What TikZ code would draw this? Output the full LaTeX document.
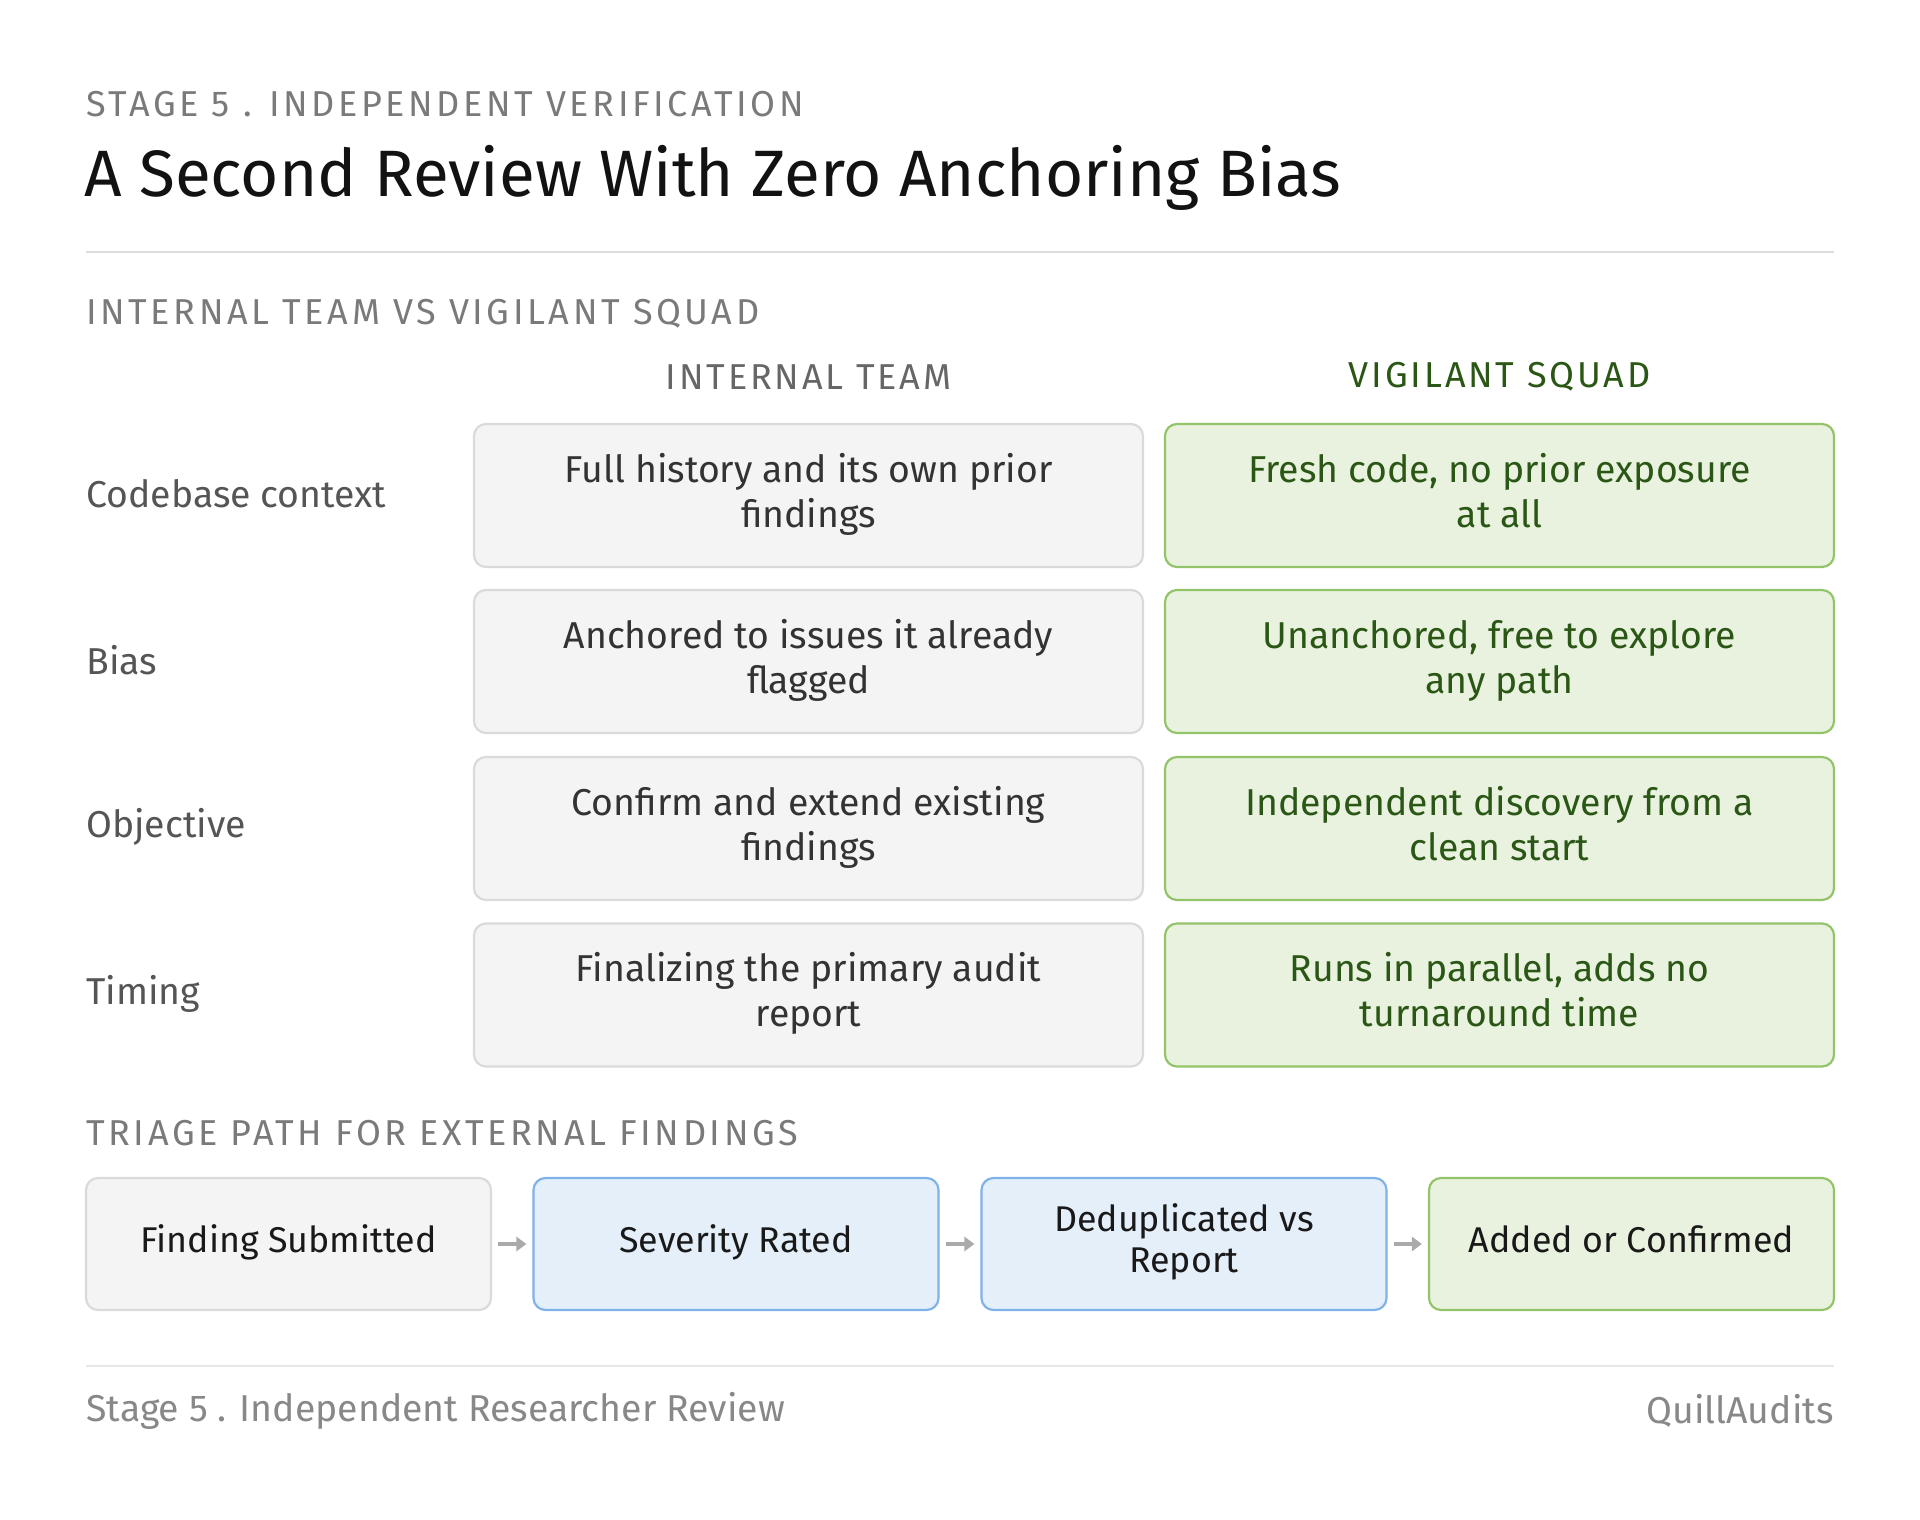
\documentclass[tikz,border=0pt]{standalone}
\usepackage{fontspec}
\setmainfont{Fira Sans}
\usetikzlibrary{arrows.meta}
\definecolor{greyfill}{HTML}{F4F4F4}
\definecolor{greyline}{HTML}{DADADA}
\definecolor{greenfill}{HTML}{E9F2DE}
\definecolor{greenline}{HTML}{94C46A}
\definecolor{greentext}{HTML}{2B5716}
\definecolor{bluefill}{HTML}{E5EFFA}
\definecolor{blueline}{HTML}{80B2E8}
\definecolor{kicker}{HTML}{7A7A7A}
\definecolor{rowlab}{HTML}{555555}
\definecolor{boxtext}{HTML}{333333}
\definecolor{footgrey}{HTML}{888888}
\definecolor{rulegrey}{HTML}{DDDDDD}
\definecolor{arrowgrey}{HTML}{AAAAAA}
\begin{document}
\begin{tikzpicture}[x=0.5pt,y=-0.5pt,
  capslab/.style={anchor=west,inner sep=0pt,text=kicker,font=\fontsize{18}{21}\selectfont\addfontfeatures{LetterSpace=10}},
  colhead/.style={inner sep=0pt,font=\fontsize{18}{21}\selectfont\addfontfeatures{LetterSpace=8}},
  rowlabel/.style={anchor=west,inner sep=0pt,text=rowlab,font=\fontsize{18.7}{22}\selectfont},
  cellbase/.style={rounded corners=6pt,line width=1.1pt,minimum width=334.5pt,minimum height=71.5pt,align=center,font=\fontsize{18.7}{22.5}\selectfont},
  greycell/.style={cellbase,fill=greyfill,draw=greyline,text=boxtext},
  greencell/.style={cellbase,fill=greenfill,draw=greenline,text=greentext},
  flowbase/.style={rounded corners=6pt,line width=1.1pt,minimum width=202.5pt,minimum height=66pt,align=center,text=black!90,font=\fontsize{17.9}{20.5}\selectfont},
  flowgrey/.style={flowbase,fill=greyfill,draw=greyline},
  flowblue/.style={flowbase,fill=bluefill,draw=blueline},
  flowgreen/.style={flowbase,fill=greenfill,draw=greenline},
  flowarrow/.style={draw=arrowgrey,line width=1.6pt,-{Triangle[length=5pt,width=7pt]},shorten <=3pt,shorten >=3pt}
]
\useasboundingbox (0,0) rectangle (1920,1519);
\fill[white] (0,0) rectangle (1920,1519);

% header
\node[capslab] (kick) at (86,104) {STAGE 5 . INDEPENDENT VERIFICATION};
\node[anchor=west,inner sep=0pt,text=black!93,font=\fontsize{32.8}{38}\selectfont] (title) at (84,178) {A Second Review With Zero Anchoring Bias};
\coordinate (r1a) at (86,252);
\coordinate (r1b) at (1834,252);
\draw[rulegrey,line width=1pt] (r1a) -- (r1b);

\node[capslab] (sec1) at (86,314) {INTERNAL TEAM VS VIGILANT SQUAD};

% column headers
\node[colhead,text=rowlab!90] (hint) at (808.5,377) {INTERNAL TEAM};
\node[colhead,text=greentext] (hvig) at (1499.5,377) {VIGILANT SQUAD};

% rows
\node[rowlabel] (l1) at (86,494) {Codebase context};
\node[greycell] (a1) at (808.5,495.5) {\strut Full history and its own prior\\findings\strut};
\node[greencell] (b1) at (1499.5,495.5) {\strut Fresh code, no prior exposure\\at all\strut};

\node[rowlabel] (l2) at (86,660) {Bias};
\node[greycell] (a2) at (808.5,661.5) {\strut Anchored to issues it already\\flagged\strut};
\node[greencell] (b2) at (1499.5,661.5) {\strut Unanchored, free to explore\\any path\strut};

\node[rowlabel] (l3) at (86,827) {Objective};
\node[greycell] (a3) at (808.5,828.5) {\strut Confirm and extend existing\\findings\strut};
\node[greencell] (b3) at (1499.5,828.5) {\strut Independent discovery from a\\clean start\strut};

\node[rowlabel] (l4) at (86,994) {Timing};
\node[greycell] (a4) at (808.5,995) {\strut Finalizing the primary audit\\report\strut};
\node[greencell] (b4) at (1499.5,995) {\strut Runs in parallel, adds no\\turnaround time\strut};

% triage
\node[capslab] (sec2) at (86,1133) {TRIAGE PATH FOR EXTERNAL FINDINGS};
\node[flowgrey] (f1) at (288.5,1244) {\strut Finding Submitted\strut};
\node[flowblue] (f2) at (736,1244) {\strut Severity Rated\strut};
\node[flowblue] (f3) at (1184,1244) {\strut Deduplicated vs\\Report\strut};
\node[flowgreen] (f4) at (1631.5,1244) {\strut Added or Confirmed\strut};
\draw[flowarrow] (f1) -- (f2);
\draw[flowarrow] (f2) -- (f3);
\draw[flowarrow] (f3) -- (f4);

% footer
\coordinate (r2a) at (86,1366);
\coordinate (r2b) at (1834,1366);
\draw[rulegrey!70,line width=1pt] (r2a) -- (r2b);
\node[anchor=west,inner sep=0pt,text=footgrey,font=\fontsize{18.7}{22}\selectfont] (foot1) at (86,1411) {Stage 5 . Independent Researcher Review};
\node[anchor=east,inner sep=0pt,text=footgrey,font=\fontsize{18.7}{22}\selectfont] (foot2) at (1834,1411) {QuillAudits};
\end{tikzpicture}
\end{document}
